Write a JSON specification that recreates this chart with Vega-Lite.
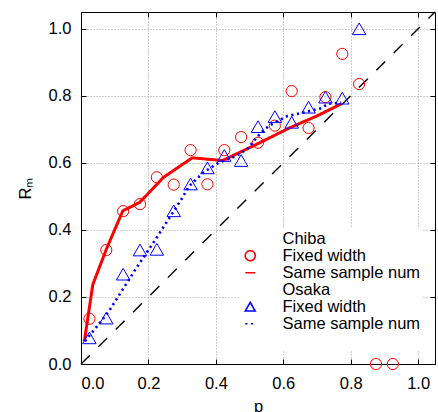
{
  "$schema": "https://vega.github.io/schema/vega-lite/v6.json",
  "width": 354,
  "height": 352,
  "autosize": {"type": "none"},
  "padding": {"left": 81, "top": 12, "right": 3, "bottom": 48},
  "config": {
    "font": "Liberation Sans",
    "view": {"stroke": "black", "strokeWidth": 1}
  },
  "datasets": {
    "diag": [{"p": 0, "rm": 0}, {"p": 1.05, "rm": 1.05}],
    "chiba_fixed": [
      {"p": 0.025, "rm": 0.135, "series": "Chiba: Fixed width"},
      {"p": 0.075, "rm": 0.34, "series": "Chiba: Fixed width"},
      {"p": 0.125, "rm": 0.456, "series": "Chiba: Fixed width"},
      {"p": 0.175, "rm": 0.477, "series": "Chiba: Fixed width"},
      {"p": 0.225, "rm": 0.557, "series": "Chiba: Fixed width"},
      {"p": 0.275, "rm": 0.535, "series": "Chiba: Fixed width"},
      {"p": 0.325, "rm": 0.638, "series": "Chiba: Fixed width"},
      {"p": 0.375, "rm": 0.536, "series": "Chiba: Fixed width"},
      {"p": 0.425, "rm": 0.638, "series": "Chiba: Fixed width"},
      {"p": 0.475, "rm": 0.677, "series": "Chiba: Fixed width"},
      {"p": 0.525, "rm": 0.66, "series": "Chiba: Fixed width"},
      {"p": 0.575, "rm": 0.711, "series": "Chiba: Fixed width"},
      {"p": 0.625, "rm": 0.814, "series": "Chiba: Fixed width"},
      {"p": 0.675, "rm": 0.704, "series": "Chiba: Fixed width"},
      {"p": 0.725, "rm": 0.796, "series": "Chiba: Fixed width"},
      {"p": 0.775, "rm": 0.925, "series": "Chiba: Fixed width"},
      {"p": 0.825, "rm": 0.835, "series": "Chiba: Fixed width"},
      {"p": 0.875, "rm": 0.0, "series": "Chiba: Fixed width"},
      {"p": 0.925, "rm": 0.0, "series": "Chiba: Fixed width"}
    ],
    "chiba_same": [
      {"p": 0.010, "rm": 0.068, "series": "Chiba: Same sample num"},
      {"p": 0.035, "rm": 0.237, "series": "Chiba: Same sample num"},
      {"p": 0.075, "rm": 0.342, "series": "Chiba: Same sample num"},
      {"p": 0.124, "rm": 0.457, "series": "Chiba: Same sample num"},
      {"p": 0.174, "rm": 0.482, "series": "Chiba: Same sample num"},
      {"p": 0.245, "rm": 0.557, "series": "Chiba: Same sample num"},
      {"p": 0.33, "rm": 0.615, "series": "Chiba: Same sample num"},
      {"p": 0.42, "rm": 0.607, "series": "Chiba: Same sample num"},
      {"p": 0.52, "rm": 0.655, "series": "Chiba: Same sample num"},
      {"p": 0.62, "rm": 0.705, "series": "Chiba: Same sample num"},
      {"p": 0.70, "rm": 0.74, "series": "Chiba: Same sample num"},
      {"p": 0.772, "rm": 0.776, "series": "Chiba: Same sample num"}
    ],
    "osaka_fixed": [
      {"p": 0.025, "rm": 0.078, "series": "Osaka: Fixed width"},
      {"p": 0.075, "rm": 0.137, "series": "Osaka: Fixed width"},
      {"p": 0.125, "rm": 0.268, "series": "Osaka: Fixed width"},
      {"p": 0.175, "rm": 0.34, "series": "Osaka: Fixed width"},
      {"p": 0.225, "rm": 0.342, "series": "Osaka: Fixed width"},
      {"p": 0.275, "rm": 0.457, "series": "Osaka: Fixed width"},
      {"p": 0.325, "rm": 0.537, "series": "Osaka: Fixed width"},
      {"p": 0.375, "rm": 0.585, "series": "Osaka: Fixed width"},
      {"p": 0.425, "rm": 0.622, "series": "Osaka: Fixed width"},
      {"p": 0.475, "rm": 0.607, "series": "Osaka: Fixed width"},
      {"p": 0.525, "rm": 0.708, "series": "Osaka: Fixed width"},
      {"p": 0.575, "rm": 0.738, "series": "Osaka: Fixed width"},
      {"p": 0.625, "rm": 0.721, "series": "Osaka: Fixed width"},
      {"p": 0.675, "rm": 0.766, "series": "Osaka: Fixed width"},
      {"p": 0.725, "rm": 0.796, "series": "Osaka: Fixed width"},
      {"p": 0.775, "rm": 0.793, "series": "Osaka: Fixed width"},
      {"p": 0.825, "rm": 1.0, "series": "Osaka: Fixed width"}
    ],
    "osaka_same": [
      {"p": 0.012, "rm": 0.068, "series": "Osaka: Same sample num"},
      {"p": 0.04, "rm": 0.103, "series": "Osaka: Same sample num"},
      {"p": 0.06, "rm": 0.128, "series": "Osaka: Same sample num"},
      {"p": 0.08, "rm": 0.153, "series": "Osaka: Same sample num"},
      {"p": 0.16, "rm": 0.28, "series": "Osaka: Same sample num"},
      {"p": 0.22, "rm": 0.37, "series": "Osaka: Same sample num"},
      {"p": 0.30, "rm": 0.495, "series": "Osaka: Same sample num"},
      {"p": 0.32, "rm": 0.53, "series": "Osaka: Same sample num"},
      {"p": 0.364, "rm": 0.572, "series": "Osaka: Same sample num"},
      {"p": 0.409, "rm": 0.601, "series": "Osaka: Same sample num"},
      {"p": 0.46, "rm": 0.62, "series": "Osaka: Same sample num"},
      {"p": 0.494, "rm": 0.642, "series": "Osaka: Same sample num"},
      {"p": 0.531, "rm": 0.687, "series": "Osaka: Same sample num"},
      {"p": 0.558, "rm": 0.711, "series": "Osaka: Same sample num"},
      {"p": 0.613, "rm": 0.74, "series": "Osaka: Same sample num"},
      {"p": 0.663, "rm": 0.751, "series": "Osaka: Same sample num"},
      {"p": 0.713, "rm": 0.763, "series": "Osaka: Same sample num"},
      {"p": 0.733, "rm": 0.776, "series": "Osaka: Same sample num"},
      {"p": 0.772, "rm": 0.78, "series": "Osaka: Same sample num"}
    ]
  },
  "resolve": {"axis": {"x": "independent", "y": "independent"}},
  "layer": [
    {
      "data": {"name": "diag"},
      "mark": {"type": "line", "color": "black", "strokeWidth": 1.4, "strokeDash": [12.5, 12]},
      "encoding": {
        "x": {
          "field": "p", "type": "quantitative",
          "scale": {"domain": [0, 1.05], "nice": false, "zero": false},
          "axis": {
            "orient": "bottom", "values": [0, 0.2, 0.4, 0.6, 0.8, 1.0], "format": ".1f",
            "title": "p", "grid": true, "gridColor": "#9a9a9a", "gridDash": [1, 2], "gridWidth": 1,
            "domainColor": "black", "ticks": false, "tickSize": 0, "labelPadding": 11,
            "labelFontSize": 16.5, "labelColor": "black", "labelFont": "Liberation Sans",
            "titleFontSize": 16.5, "titleFontWeight": "normal", "titleColor": "black",
            "titleFont": "Liberation Sans", "titlePadding": 7
          }
        },
        "y": {
          "field": "rm", "type": "quantitative",
          "scale": {"domain": [0, 1.05], "nice": false, "zero": false},
          "axis": {
            "orient": "left", "values": [0, 0.2, 0.4, 0.6, 0.8, 1.0], "format": ".1f",
            "title": "Rₘ", "grid": true, "gridColor": "#9a9a9a", "gridDash": [1, 2], "gridWidth": 1,
            "domainColor": "black", "ticks": false, "tickSize": 0, "labelPadding": 10,
            "labelFontSize": 16.5, "labelColor": "black", "labelFont": "Liberation Sans",
            "titleFontSize": 16.5, "titleFontWeight": "normal", "titleColor": "black",
            "titleFont": "Liberation Sans", "titlePadding": 15
          }
        }
      }
    },
    {
      "data": {"name": "chiba_fixed"},
      "mark": {"type": "point", "filled": false, "strokeWidth": 1, "opacity": 1},
      "encoding": {
        "x": {
          "field": "p", "type": "quantitative",
          "axis": {"orient": "bottom", "offset": -5, "values": [0, 0.2, 0.4, 0.6, 0.8, 1.0], "labels": false,
                   "grid": false, "domain": false, "title": null, "tickColor": "black", "tickSize": 5}
        },
        "y": {
          "field": "rm", "type": "quantitative",
          "axis": {"orient": "left", "offset": -5, "values": [0, 0.2, 0.4, 0.6, 0.8, 1.0], "labels": false,
                   "grid": false, "domain": false, "title": null, "tickColor": "black", "tickSize": 5}
        },
        "color": {
          "field": "series", "type": "nominal",
          "scale": {
            "domain": ["Chiba", "Chiba: Fixed width", "Chiba: Same sample num", "Osaka", "Osaka: Fixed width", "Osaka: Same sample num", " "],
            "range": ["#ffffff", "#ff0000", "#ff0000", "#ffffff", "#0000ff", "#0000ff", "#ffffff"]
          },
          "legend": {
            "orient": "none", "legendX": 159, "legendY": 216.25, "title": null, "direction": "vertical",
            "fillColor": "white", "padding": 2, "labelFontSize": 16.5, "clipHeight": 16.9,
            "labelColor": "black", "labelFont": "Liberation Sans", "labelOffset": 24, "rowPadding": 0,
            "labelLimit": 300, "symbolStrokeWidth": 1.6,
            "labelExpr": "indexof(datum.label, ': ') >= 0 ? split(datum.label, ': ')[1] : datum.label"
          }
        },
        "shape": {
          "field": "series", "type": "nominal",
          "scale": {
            "domain": ["Chiba", "Chiba: Fixed width", "Chiba: Same sample num", "Osaka", "Osaka: Fixed width", "Osaka: Same sample num", " "],
            "range": ["circle", "circle", "stroke", "circle", "triangle-up", "stroke", "circle"]
          }
        },
        "size": {
          "field": "series", "type": "nominal",
          "scale": {
            "type": "ordinal",
            "domain": ["Chiba", "Chiba: Fixed width", "Chiba: Same sample num", "Osaka", "Osaka: Fixed width", "Osaka: Same sample num", " "],
            "range": [0, 125, 2116, 0, 125, 2116, 0]
          }
        }
      }
    },
    {
      "data": {"name": "chiba_same"},
      "mark": {"type": "line", "strokeWidth": 3},
      "encoding": {
        "x": {
          "field": "p", "type": "quantitative",
          "axis": {"orient": "top", "offset": -5, "values": [0, 0.2, 0.4, 0.6, 0.8, 1.0], "labels": false,
                   "grid": false, "domain": false, "title": null, "tickColor": "black", "tickSize": 5}
        },
        "y": {
          "field": "rm", "type": "quantitative",
          "axis": {"orient": "right", "offset": -5, "values": [0, 0.2, 0.4, 0.6, 0.8, 1.0], "labels": false,
                   "grid": false, "domain": false, "title": null, "tickColor": "black", "tickSize": 5}
        },
        "color": {"field": "series", "type": "nominal"},
        "strokeDash": {
          "field": "series", "type": "nominal",
          "scale": {
            "domain": ["Chiba", "Chiba: Fixed width", "Chiba: Same sample num", "Osaka", "Osaka: Fixed width", "Osaka: Same sample num", " "],
            "range": [[1, 0], [1, 0], [1, 0], [1, 0], [1, 0], [2.2, 3.5], [1, 0]]
          }
        }
      }
    },
    {
      "data": {"name": "osaka_fixed"},
      "mark": {"type": "point", "filled": false, "strokeWidth": 1, "opacity": 1},
      "encoding": {
        "x": {"field": "p", "type": "quantitative", "axis": null},
        "y": {"field": "rm", "type": "quantitative", "axis": null},
        "color": {"field": "series", "type": "nominal"},
        "shape": {"field": "series", "type": "nominal"},
        "size": {"field": "series", "type": "nominal"}
      }
    },
    {
      "data": {"name": "osaka_same"},
      "mark": {"type": "line", "strokeWidth": 2.6},
      "encoding": {
        "x": {"field": "p", "type": "quantitative", "axis": null},
        "y": {"field": "rm", "type": "quantitative", "axis": null},
        "color": {"field": "series", "type": "nominal"},
        "strokeDash": {"field": "series", "type": "nominal"}
      }
    }
  ]
}
